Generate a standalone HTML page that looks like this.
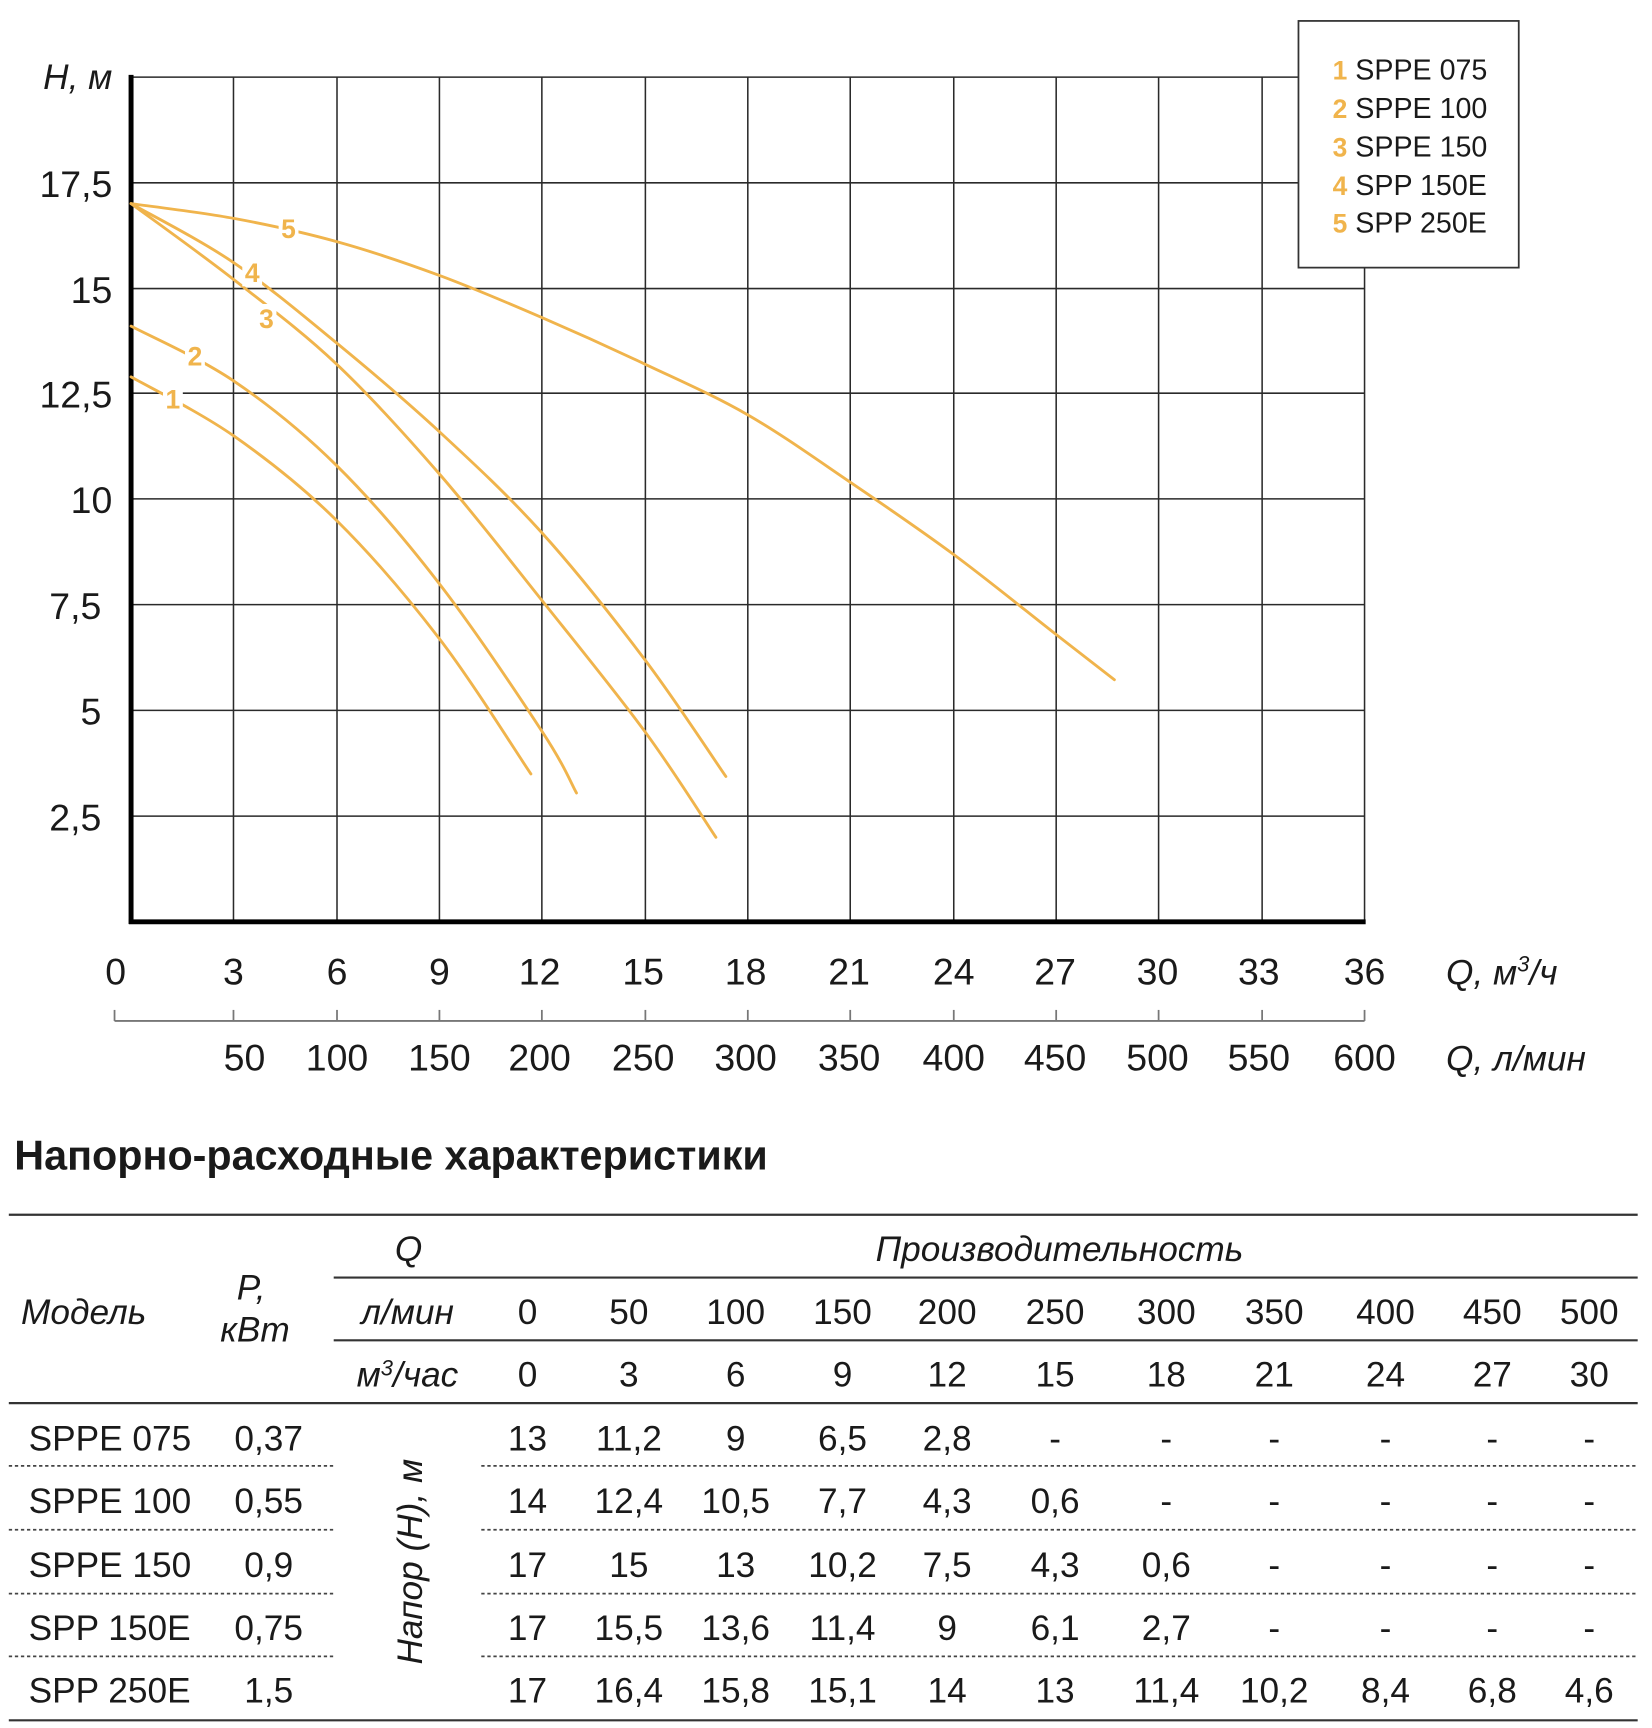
<!DOCTYPE html>
<html><head><meta charset="utf-8"><style>
html,body{margin:0;padding:0;background:#fff;}
svg{display:block;}
text{font-family:"Liberation Sans Narrow","Liberation Sans",sans-serif;fill:#1a1a1a;}
.it{font-style:italic;}
.g{stroke:#2a2a2a;stroke-width:1.4;fill:none;}
.c{stroke:#F0B44C;stroke-width:2.6;fill:none;stroke-linecap:round;}
.lb{font-family:"Liberation Sans",sans-serif;font-weight:bold;fill:#F0B44C;font-size:24px;}
</style></head><body>
<svg width="1652" height="1728" viewBox="0 0 1500 1569" preserveAspectRatio="none" xmlns="http://www.w3.org/2000/svg">
<g id="grid" class="g">
<line x1="119" y1="70" x2="1239" y2="70"/>
<line x1="119" y1="166" x2="1239" y2="166"/>
<line x1="119" y1="262" x2="1239" y2="262"/>
<line x1="119" y1="357" x2="1239" y2="357"/>
<line x1="119" y1="453" x2="1239" y2="453"/>
<line x1="119" y1="549" x2="1239" y2="549"/>
<line x1="119" y1="645" x2="1239" y2="645"/>
<line x1="119" y1="741" x2="1239" y2="741"/>
<line x1="212" y1="70" x2="212" y2="837"/>
<line x1="306" y1="70" x2="306" y2="837"/>
<line x1="399" y1="70" x2="399" y2="837"/>
<line x1="492" y1="70" x2="492" y2="837"/>
<line x1="586" y1="70" x2="586" y2="837"/>
<line x1="679" y1="70" x2="679" y2="837"/>
<line x1="772" y1="70" x2="772" y2="837"/>
<line x1="866" y1="70" x2="866" y2="837"/>
<line x1="959" y1="70" x2="959" y2="837"/>
<line x1="1052" y1="70" x2="1052" y2="837"/>
<line x1="1146" y1="70" x2="1146" y2="837"/>
<line x1="1239" y1="70" x2="1239" y2="837"/>
</g>
<line x1="119" y1="68" x2="119" y2="839" stroke="#000" stroke-width="4.5"/>
<line x1="117" y1="837" x2="1240" y2="837" stroke="#000" stroke-width="4.5"/>
<rect x="1179" y="19" width="200" height="224" fill="#fff" stroke="#333" stroke-width="1.6"/>
<g font-size="26">
<text x="1210" y="72"><tspan class="lb" font-size="26">1</tspan> SPPE 075</text>
<text x="1210" y="107"><tspan class="lb" font-size="26">2</tspan> SPPE 100</text>
<text x="1210" y="142"><tspan class="lb" font-size="26">3</tspan> SPPE 150</text>
<text x="1210" y="177"><tspan class="lb" font-size="26">4</tspan> SPP 150E</text>
<text x="1210" y="211"><tspan class="lb" font-size="26">5</tspan> SPP 250E</text>
</g>
<g id="curves"></g>
<g font-size="34" text-anchor="end">
<text x="102" y="81" class="it" font-size="32">H, м</text>
<text x="102" y="179">17,5</text>
<text x="102" y="275">15</text>
<text x="102" y="370">12,5</text>
<text x="102" y="466">10</text>
<text x="92" y="562">7,5</text>
<text x="92" y="658">5</text>
<text x="92" y="754">2,5</text>
</g>
<g font-size="34" text-anchor="middle">
<text x="105" y="894">0</text><text x="212" y="894">3</text><text x="306" y="894">6</text><text x="399" y="894">9</text>
<text x="490" y="894">12</text><text x="584" y="894">15</text><text x="677" y="894">18</text><text x="771" y="894">21</text>
<text x="866" y="894">24</text><text x="958" y="894">27</text><text x="1051" y="894">30</text><text x="1143" y="894">33</text><text x="1239" y="894">36</text>
<text x="222" y="972">50</text><text x="306" y="972">100</text><text x="399" y="972">150</text><text x="490" y="972">200</text>
<text x="584" y="972">250</text><text x="677" y="972">300</text><text x="771" y="972">350</text><text x="866" y="972">400</text>
<text x="958" y="972">450</text><text x="1051" y="972">500</text><text x="1143" y="972">550</text><text x="1239" y="972">600</text>
</g>
<text x="1313" y="894" font-size="32" class="it">Q, м<tspan font-size="20" dy="-12">3</tspan><tspan dy="12">/ч</tspan></text>
<text x="1313" y="972" font-size="32" class="it">Q, л/мин</text>
<g stroke="#777" stroke-width="1.6">
<line x1="104" y1="927" x2="1239" y2="927"/>
<line x1="104" y1="917" x2="104" y2="927"/><line x1="212" y1="917" x2="212" y2="927"/><line x1="306" y1="917" x2="306" y2="927"/>
<line x1="399" y1="917" x2="399" y2="927"/><line x1="492" y1="917" x2="492" y2="927"/><line x1="586" y1="917" x2="586" y2="927"/>
<line x1="679" y1="917" x2="679" y2="927"/><line x1="772" y1="917" x2="772" y2="927"/><line x1="866" y1="917" x2="866" y2="927"/>
<line x1="959" y1="917" x2="959" y2="927"/><line x1="1052" y1="917" x2="1052" y2="927"/><line x1="1146" y1="917" x2="1146" y2="927"/><line x1="1239" y1="917" x2="1239" y2="927"/>
</g>
<text x="13" y="1062" font-size="37.5" font-weight="bold">Напорно-расходные характеристики</text>
<g stroke="#333" stroke-width="2">
<line x1="8" y1="1103" x2="1487" y2="1103"/>
<line x1="303" y1="1160" x2="1487" y2="1160"/>
<line x1="303" y1="1217" x2="1487" y2="1217"/>
<line x1="8" y1="1274" x2="1487" y2="1274"/>
<line x1="8" y1="1562" x2="1487" y2="1562"/>
</g>
<g stroke="#444" stroke-width="1.6" stroke-dasharray="3,2.5">
<line x1="8" y1="1331" x2="303" y2="1331"/><line x1="437" y1="1331" x2="1487" y2="1331"/>
<line x1="8" y1="1389" x2="303" y2="1389"/><line x1="437" y1="1389" x2="1487" y2="1389"/>
<line x1="8" y1="1447" x2="303" y2="1447"/><line x1="437" y1="1447" x2="1487" y2="1447"/>
<line x1="8" y1="1504" x2="303" y2="1504"/><line x1="437" y1="1504" x2="1487" y2="1504"/>
</g>
<g font-size="32" class="it" text-anchor="middle">
<text x="371" y="1145">Q</text>
<text x="962" y="1145">Производительность</text>
<text x="76" y="1202">Модель</text>
<text x="215" y="1180" text-anchor="start">P,</text>
<text x="200" y="1218" text-anchor="start">кВт</text>
<text x="370" y="1202">л/мин</text>
<text x="370" y="1259">м<tspan font-size="20" dy="-10">3</tspan><tspan dy="10">/час</tspan></text>
<text transform="translate(383,1418) rotate(-90)" font-size="32">Напор (H), м</text>
</g>
<g id="tbl" font-size="32" text-anchor="middle"></g>
</svg>
<script>
var NS="http://www.w3.org/2000/svg";
function X(q){return 119+q*31.11;}function Y(h){return 837-h*38.36;}
var curves=[
[[0,12.9],[3,11.5],[6,9.5],[9,6.7],[11.67,3.5]],
[[0,14.1],[3,12.8],[6,10.8],[9,8.0],[12,4.5],[13,3.05]],
[[0,17],[3,15.2],[6,13.2],[9,10.6],[12,7.6],[15,4.5],[17.07,2.0]],
[[0,17],[3,15.6],[6,13.7],[9,11.6],[12,9.2],[15,6.2],[17.36,3.44]],
[[0,17],[3,16.65],[6,16.1],[9,15.3],[12,14.3],[15,13.2],[18,12.0],[21,10.4],[24,8.7],[27,6.8],[28.7,5.73]]];
var g=document.getElementById('curves');
curves.forEach(function(c){
 var p=c.map(function(d){return [X(d[0]),Y(d[1])];});
 var s="M"+p[0][0]+","+p[0][1];
 for(var i=0;i<p.length-1;i++){
  var p0=p[i-1]||p[i],p1=p[i],p2=p[i+1],p3=p[i+2]||p2;
  var c1=[p1[0]+(p2[0]-p0[0])/6,p1[1]+(p2[1]-p0[1])/6],c2=[p2[0]-(p3[0]-p1[0])/6,p2[1]-(p3[1]-p1[1])/6];
  s+=" C"+c1+" "+c2+" "+p2;
 }
 var e=document.createElementNS(NS,'path');e.setAttribute('d',s);e.setAttribute('class','c');g.appendChild(e);
});
[[262,207,'5'],[229,247,'4'],[242,289,'3'],[177,323,'2'],[157,362,'1']].forEach(function(l){
 var r=document.createElementNS(NS,'rect');r.setAttribute('x',l[0]-9);r.setAttribute('y',l[1]-13);r.setAttribute('width',18);r.setAttribute('height',26);r.setAttribute('fill','#fff');g.appendChild(r);
 var t=document.createElementNS(NS,'text');t.setAttribute('x',l[0]);t.setAttribute('y',l[1]+9);t.setAttribute('text-anchor','middle');t.setAttribute('class','lb');t.textContent=l[2];g.appendChild(t);
});
var cols=[479,571,668,765,860,958,1059,1157,1258,1355,1443];
var T=document.getElementById('tbl');
function txt(x,y,s,a){var t=document.createElementNS(NS,'text');t.setAttribute('x',x);t.setAttribute('y',y);if(a)t.setAttribute('text-anchor',a);t.textContent=s;T.appendChild(t);}
var lm=['0','50','100','150','200','250','300','350','400','450','500'],m3=['0','3','6','9','12','15','18','21','24','27','30'];
cols.forEach(function(x,i){txt(x,1202,lm[i]);txt(x,1259,m3[i]);});
var rows=[['SPPE 075','0,37',['13','11,2','9','6,5','2,8','-','-','-','-','-','-']],
['SPPE 100','0,55',['14','12,4','10,5','7,7','4,3','0,6','-','-','-','-','-']],
['SPPE 150','0,9',['17','15','13','10,2','7,5','4,3','0,6','-','-','-','-']],
['SPP 150E','0,75',['17','15,5','13,6','11,4','9','6,1','2,7','-','-','-','-']],
['SPP 250E','1,5',['17','16,4','15,8','15,1','14','13','11,4','10,2','8,4','6,8','4,6']]];
var ys=[1317,1374,1432,1489,1546];
rows.forEach(function(r,j){txt(26,ys[j],r[0],'start');txt(244,ys[j],r[1]);r[2].forEach(function(v,i){txt(cols[i],ys[j],v);});});
</script>
</body></html>
